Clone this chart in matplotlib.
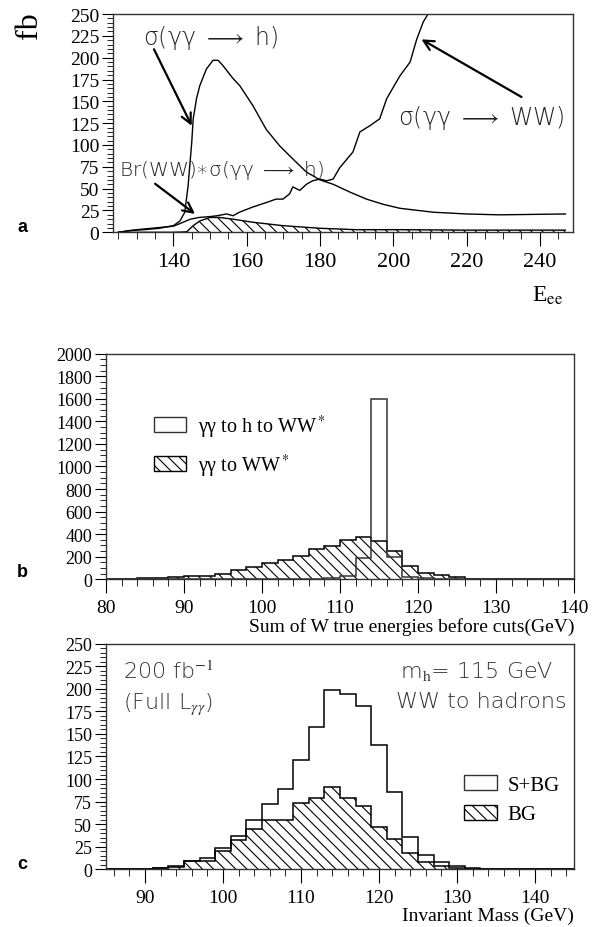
import numpy as np
import matplotlib
matplotlib.use("Agg")
import matplotlib.pyplot as plt
from matplotlib.patches import Patch
from matplotlib.ticker import MultipleLocator

plt.rcParams['font.family'] = 'serif'
plt.rcParams['font.serif'] = ['Liberation Serif', 'DejaVu Serif']
plt.rcParams['mathtext.fontset'] = 'stix'
plt.rcParams['hatch.linewidth'] = 0.8

SANS = ['DejaVu Sans']
BOLD = ['Liberation Sans', 'DejaVu Sans']

# ---- panel a: cross sections vs E_ee (fb)
e_h = [125, 128, 132, 136, 140, 141.8, 143.1, 144, 145, 145.4, 146.3, 147.2, 149, 150.8,
       152.2, 153.5, 156.3, 158.1, 161.7, 165.3, 169, 172.6, 176.3, 180, 183.6, 188.2,
       192.7, 197.3, 201.8, 210.9, 220, 229, 238, 247]
sig_h = [0, 2, 3, 4.5, 7.6, 13, 23, 53, 103, 130, 153, 168, 187, 197,
         197, 191, 176, 168, 145, 118, 99, 84, 69, 60, 55, 46,
         38, 32, 27.5, 23, 21, 20, 20.5, 21]

e_ww = [125, 130, 135, 140, 141.8, 144.6, 147, 150, 152, 154.5, 156.3, 158, 161.7, 165.3,
        168, 169.9, 171.7, 172.6, 174.5, 176.3, 178, 180, 181.8, 183.6, 185.4, 189,
        190.9, 193.6, 196.3, 198.2, 201.8, 204.6, 206.4, 208.2, 209.5, 212]
sig_ww = [0, 3, 5, 7, 10, 15, 17, 18, 19, 21, 19, 23, 29, 34,
          38, 38, 44, 52, 48, 55, 59, 61, 59, 61, 74, 92,
          115, 122, 130, 153, 179, 195, 221, 241, 250, 270]

e_br = [125, 140, 143.6, 145.4, 147.2, 150, 152.6, 156.3, 161.7, 169.9, 180, 190, 202, 220, 247]
sig_br = [0, 0, 0.5, 7.6, 13, 17, 17, 15, 11.5, 7.6, 4.6, 3, 3, 2.5, 2.5]

# ---- panel b: sum of W true energies (2 GeV bins, 80-140)
b_edges = np.arange(80, 142, 2)
b_bg = [5, 5, 8, 12, 20, 30, 32, 47, 80, 110, 148, 172, 204, 270, 296,
        348, 378, 342, 254, 118, 56, 41, 18, 6, 2, 0, 0, 0, 0, 0]
b_sig = [0, 0, 0, 0, 0, 0, 0, 0, 0, 0, 0, 0, 2, 5, 9,
         32, 190, 1600, 200, 20, 8, 3, 0, 0, 0, 0, 0, 0, 0, 0]

# ---- panel c: invariant mass (2 GeV bins, 85-145)
c_edges = np.arange(85, 147, 2)
c_tot = [0, 0, 0, 1.1, 3.7, 9.6, 13, 24, 36.5, 55, 72, 89, 121, 157.6, 199,
         194, 181, 138, 86, 36, 15.5, 8.5, 3.3, 1.5, 0.7, 0.7, 0, 0, 0, 0]
c_bg = [0, 0, 0, 1, 3, 9, 9.6, 20, 32, 45, 55, 55, 74, 79, 91.6,
        79, 70.5, 47, 33, 18, 7.8, 3.7, 1.1, 0.4, 0, 0, 0, 0, 0, 0]

fig = plt.figure(figsize=(6, 9.28), dpi=100)


def style_axes(ax, ylab_size, xlab_size):
    for s in ax.spines.values():
        s.set_color('#333333')
        s.set_linewidth(1.0)
    ax.tick_params(which='both', direction='out', colors='black')
    ax.tick_params(axis='y', which='major', length=8, labelsize=ylab_size, pad=2)
    ax.tick_params(axis='y', which='minor', length=4)
    ax.tick_params(axis='x', which='major', length=10, labelsize=xlab_size, pad=4)
    ax.tick_params(axis='x', which='minor', length=5)


arrow = dict(arrowstyle='->', lw=1.6, color='black', mutation_scale=18, shrinkA=0, shrinkB=0)
LARROW = r'$\longrightarrow$'

# ================= panel a
axa = fig.add_axes([0.1889, 0.7486, 0.7657, 0.2352])
axa.plot(e_h, sig_h, color='black', lw=1.0)
axa.plot(e_ww, sig_ww, color='black', lw=1.0)
axa.fill_between(e_br, sig_br, 0, facecolor='none', edgecolor='black', hatch='\\\\\\', lw=0)
axa.plot(e_br, sig_br, color='black', lw=1.0)
axa.set_xlim(123.6, 249)
axa.set_ylim(0, 250)
axa.xaxis.set_major_locator(MultipleLocator(20))
axa.xaxis.set_minor_locator(MultipleLocator(5))
axa.yaxis.set_major_locator(MultipleLocator(25))
axa.yaxis.set_minor_locator(MultipleLocator(5))
style_axes(axa, 14, 16)
axa.set_xticks([140, 160, 180, 200, 220, 240])

axa.annotate('', xy=(145, 122), xytext=(134.7, 209.6), arrowprops=arrow)
axa.text(150.2, 224, 'σ(γγ ' + LARROW + ' h)', fontsize=17, family=SANS, weight='light',
         color='#222222', ha='center', va='center')
axa.annotate('', xy=(145.9, 21), xytext=(135, 55.6), arrowprops=arrow)
axa.text(125.2, 72.5, 'Br(WW)∗σ(γγ ' + LARROW + ' h)', fontsize=14.5, family=SANS,
         weight='light', color='#222222', ha='left', va='center')
axa.annotate('', xy=(207.7, 221), xytext=(235, 155), arrowprops=arrow)
axa.text(224, 132, 'σ(γγ ' + LARROW + ' WW)', fontsize=17, family=SANS, weight='light',
         color='#222222', ha='center', va='center')

fig.text(30 / 600, 1 - 26 / 928, 'fb', fontsize=23, rotation=90, ha='center', va='center')
fig.text(532 / 600, 1 - 296 / 928, r'E$_{\rm ee}$', fontsize=17, ha='left', va='center')
fig.text(17 / 600, 1 - 228 / 928, 'a', fontsize=13, weight='bold', family=BOLD,
         ha='left', va='center')

# ================= panel b
axb = fig.add_axes([0.1767, 0.3747, 0.78, 0.2431])
axb.stairs(b_bg, b_edges, fill=True, facecolor='none', edgecolor='black', hatch='\\\\\\', lw=0)
axb.stairs(b_bg, b_edges, color='black', lw=1.1, baseline=None)
axb.stairs(b_sig, b_edges, color='#333333', lw=1.1, baseline=0)
axb.set_xlim(80, 140)
axb.set_ylim(0, 2000)
axb.xaxis.set_major_locator(MultipleLocator(10))
axb.xaxis.set_minor_locator(MultipleLocator(2))
axb.yaxis.set_major_locator(MultipleLocator(200))
axb.yaxis.set_minor_locator(MultipleLocator(50))
style_axes(axb, 13, 14)
axb.set_xlabel('Sum of W true energies before cuts(GeV)', loc='right', fontsize=14, labelpad=1)
hb = [Patch(facecolor='white', edgecolor='#333333', lw=1, label=r'γγ to h to WW$^*$'),
      Patch(facecolor='white', edgecolor='black', hatch='\\\\\\', lw=1, label=r'γγ to WW$^*$')]
axb.legend(handles=hb, loc='upper left', bbox_to_anchor=(0.064, 0.82), frameon=False,
           fontsize=14.5, handlelength=1.6, handleheight=0.75, labelspacing=0.6, handletextpad=0.6)
fig.text(17 / 600, 1 - 573 / 928, 'b', fontsize=13, weight='bold', family=BOLD,
         ha='left', va='center')

# ================= panel c
axc = fig.add_axes([0.1767, 0.0622, 0.78, 0.2431])
axc.stairs(c_bg, c_edges, fill=True, facecolor='none', edgecolor='black', hatch='\\\\\\', lw=0)
axc.stairs(c_bg, c_edges, color='black', lw=1.1, baseline=None)
axc.stairs(c_tot, c_edges, color='black', lw=1.1, baseline=None)
axc.set_xlim(85, 145)
axc.set_ylim(0, 250)
axc.xaxis.set_major_locator(MultipleLocator(10))
axc.xaxis.set_minor_locator(MultipleLocator(2))
axc.yaxis.set_major_locator(MultipleLocator(25))
axc.yaxis.set_minor_locator(MultipleLocator(5))
style_axes(axc, 13, 14)
axc.set_xlabel('Invariant Mass (GeV)', loc='right', fontsize=14, labelpad=1)
hc = [Patch(facecolor='white', edgecolor='#333333', lw=1, label='S+BG'),
      Patch(facecolor='white', edgecolor='black', hatch='\\\\\\', lw=1, label='BG')]
axc.legend(handles=hc, loc='upper left', bbox_to_anchor=(0.725, 0.5), frameon=False,
           fontsize=15, handlelength=1.6, handleheight=0.75, labelspacing=0.45, handletextpad=0.5)
axc.text(0.036, 0.88, r'200 fb$^{-1}$', transform=axc.transAxes, fontsize=16, family=SANS,
         weight='light', color='#333333', ha='left', va='center')
axc.text(0.036, 0.735, r'(Full L$_{\gamma\gamma}$)', transform=axc.transAxes, fontsize=16,
         family=SANS, weight='light', color='#333333', ha='left', va='center')
axc.text(0.957, 0.88, r'm$_{\rm h}$= 115 GeV', transform=axc.transAxes, fontsize=16,
         family=SANS, weight='light', color='#333333', ha='right', va='center')
axc.text(0.985, 0.745, 'WW to hadrons', transform=axc.transAxes, fontsize=16,
         family=SANS, weight='light', color='#333333', ha='right', va='center')
fig.text(17 / 600, 1 - 865 / 928, 'c', fontsize=13, weight='bold', family=BOLD,
         ha='left', va='center')

fig.savefig('out.png', dpi=100)
